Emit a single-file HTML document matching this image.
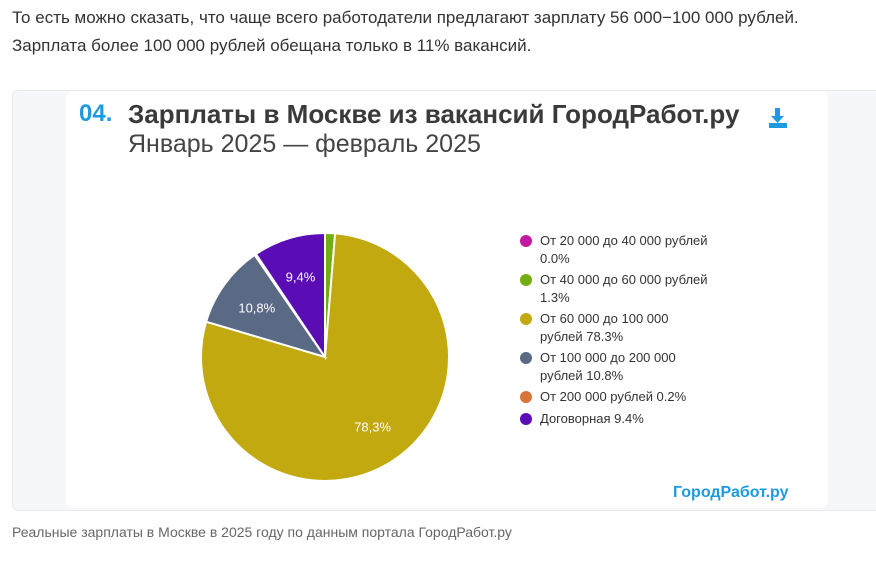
<!DOCTYPE html>
<html><head><meta charset="utf-8"><style>
body{margin:0;width:876px;height:569px;background:#fff;font-family:"Liberation Sans","DejaVu Sans",sans-serif;position:relative;overflow:hidden}
.p{position:absolute;left:12px;font-size:17px;color:#333;white-space:nowrap}
#outer{position:absolute;left:12px;top:90px;width:870px;height:419px;background:#f5f7fa;border:1px solid #e8eaee;border-radius:6px}
#card{position:absolute;left:66px;top:91px;width:762px;height:417px;background:#fff;border-radius:8px}
.t{position:absolute;white-space:nowrap}
.leg{position:absolute;left:522px;font-size:13px;color:#333;line-height:18px}
.dot{position:absolute;left:-2px;top:3px;width:12px;height:12px;border-radius:50%}
.leg span.tx{margin-left:18px;display:block}
</style></head><body>
<div class="p" style="top:8px">То есть можно сказать, что чаще всего работодатели предлагают зарплату 56 000−100 000 рублей.</div>
<div class="p" style="top:36px">Зарплата более 100 000 рублей обещана только в 11% вакансий.</div>
<div id="outer"></div>
<div id="card"></div>
<div class="t" style="left:79px;top:100px;font-size:24px;font-weight:bold;color:#1e9be0">04.</div>
<div class="t" style="left:128px;top:99px;font-size:26px;font-weight:bold;color:#3a3a3a">Зарплаты в Москве из вакансий ГородРабот.ру</div>
<div class="t" style="left:128px;top:130px;font-size:25px;color:#444">Январь 2025 — февраль 2025</div>
<svg style="position:absolute;left:766px;top:106px" width="24" height="24"><path d="M9 2h5v8h4l-6.5 7L5 10h4z" fill="#1e9be0"/><rect x="3" y="17" width="18" height="5" fill="#1e9be0"/></svg>
<svg id="pie" style="position:absolute;left:0;top:0" width="876" height="569"></svg>
<div class="leg" style="top:232px"><i class="dot" style="background:#c01aa0"></i><span class="tx">От 20 000 до 40 000 рублей<br>0.0%</span></div>
<div class="leg" style="top:271px"><i class="dot" style="background:#72ad12"></i><span class="tx">От 40 000 до 60 000 рублей<br>1.3%</span></div>
<div class="leg" style="top:310px"><i class="dot" style="background:#c2a90f"></i><span class="tx">От 60 000 до 100 000<br>рублей 78.3%</span></div>
<div class="leg" style="top:349px"><i class="dot" style="background:#5a6a85"></i><span class="tx">От 100 000 до 200 000<br>рублей 10.8%</span></div>
<div class="leg" style="top:388px"><i class="dot" style="background:#d8743a"></i><span class="tx">От 200 000 рублей 0.2%</span></div>
<div class="leg" style="top:410px"><i class="dot" style="background:#5b0db5"></i><span class="tx">Договорная 9.4%</span></div>
<div class="t" style="left:673px;top:484px;font-size:16px;font-weight:bold;color:#1e9be0">ГородРабот.ру</div>
<div class="t" style="left:12px;top:524px;font-size:14px;color:#666">Реальные зарплаты в Москве в 2025 году по данным портала ГородРабот.ру</div>
<script>
const categories=["20-40","40-60","60-100","100-200","200+","Договорная"];
const values=[0.0,1.3,78.3,10.8,0.2,9.4];
const labels=["","","78,3%","10,8%","","9,4%"];
const colors=["#c01aa0","#72ad12","#c2a90f","#5a6a85","#d8743a","#5b0db5"];
const cx=325,cy=357,r=124,NS="http://www.w3.org/2000/svg";
const svg=document.getElementById('pie');
const total=values.reduce((a,b)=>a+b,0);
function pt(a,rr){return [cx+rr*Math.sin(a),cy-rr*Math.cos(a)];}
let a0=0;
values.forEach((v,i)=>{
  const a1=a0+v/total*2*Math.PI;
  if(v>0){
    const p0=pt(a0,r),p1=pt(a1,r),large=(a1-a0)>Math.PI?1:0;
    const path=document.createElementNS(NS,'path');
    path.setAttribute('d',`M${cx},${cy}L${p0[0]},${p0[1]}A${r},${r} 0 ${large} 1 ${p1[0]},${p1[1]}Z`);
    path.setAttribute('fill',colors[i]);path.setAttribute('stroke','#fff');path.setAttribute('stroke-width','2');
    
    
    svg.appendChild(path);
    if(labels[i]){
      const m=(a0+a1)/2,lp=pt(m,r*0.68);
      const t=document.createElementNS(NS,'text');
      t.setAttribute('x',lp[0]);t.setAttribute('y',lp[1]+5);t.setAttribute('text-anchor','middle');
      t.setAttribute('fill','#fff');t.setAttribute('font-size','13');t.setAttribute('font-family','Liberation Sans, sans-serif');
      t.textContent=labels[i];
      
      
      svg.appendChild(t);
    }
  }
  a0=a1;
});
</script>
</body></html>
